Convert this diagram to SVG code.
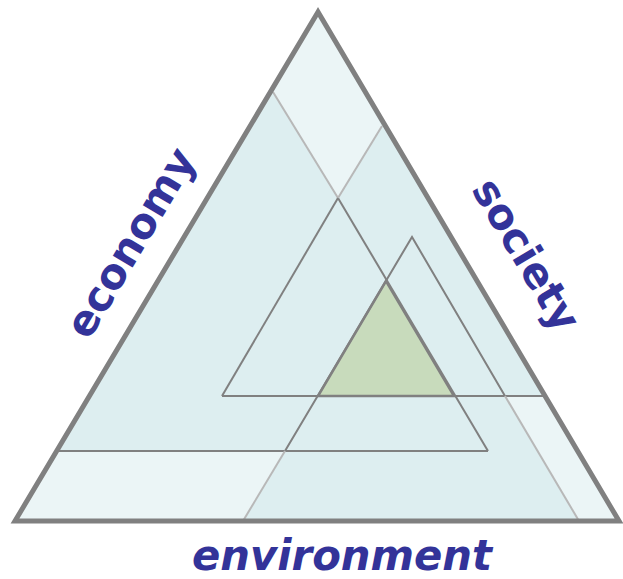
<svg xmlns="http://www.w3.org/2000/svg" width="623" height="579" viewBox="0 0 623 579">
  <style>
    .shade { fill: #ddeef0; }
    .light { fill: #ebf5f6; }
    .core { fill: #c8dbbc; }
    .edge { fill: none; stroke: #808080; stroke-width: 2; stroke-linejoin: miter; }
    .soft { fill: none; stroke: #b8b8b8; stroke-width: 2; }
    .outline { fill: none; stroke: #808080; stroke-width: 5; stroke-linejoin: miter; }
    .label { font-family: "DejaVu Sans", Verdana, sans-serif; font-weight: bold; font-size: 42px; fill: #333399; text-anchor: middle; }
  </style>

  <!-- base fill of the whole triangle -->
  <g id="field">
    <polygon class="shade" points="318,12 15,521 619,521"/>
    <!-- regions outside all three pillars -->
    <polygon class="light" points="318,12 273,92 338,198 382,126"/>
    <polygon class="light" points="58,451 285,451 243,521 15,521"/>
    <polygon class="light" points="505,396 546,396 619,521 579,521"/>
  </g>

  <!-- overlap of all three pillars -->
  <g id="core">
    <polygon class="core" points="386,281 318,396 454,396"/>
  </g>

  <g id="connectors">
    <!-- economy pillar -->
    <line class="soft" x1="273" y1="92" x2="338" y2="198"/>
    <line class="edge" x1="338" y1="198" x2="488" y2="451"/>
    <line class="edge" x1="58" y1="451" x2="488" y2="451"/>
    <!-- society pillar -->
    <line class="soft" x1="382" y1="126" x2="338" y2="198"/>
    <line class="edge" x1="338" y1="198" x2="222" y2="396"/>
    <line class="edge" x1="222" y1="396" x2="544" y2="396"/>
    <!-- environment pillar -->
    <polyline class="edge" points="285,451 412,237 505,396"/>
    <line class="soft" x1="285" y1="451" x2="243" y2="521"/>
    <line class="soft" x1="505" y1="396" x2="579" y2="521"/>
    <!-- core outline -->
    <polygon class="edge" points="386,281 318,396 454,396" style="stroke-width:2.5"/>
  </g>

  <g id="frame">
    <polygon class="outline" points="318,12 15,521 619,521"/>
  </g>

  <g id="labels">
    <text class="label" transform="translate(143,250) rotate(-59.3)">economy</text>
    <text class="label" transform="translate(514,262) rotate(59.3)">society</text>
    <text class="label" x="342" y="570" font-size="41" font-style="italic" textLength="300" lengthAdjust="spacingAndGlyphs">environment</text>
  </g>
</svg>
